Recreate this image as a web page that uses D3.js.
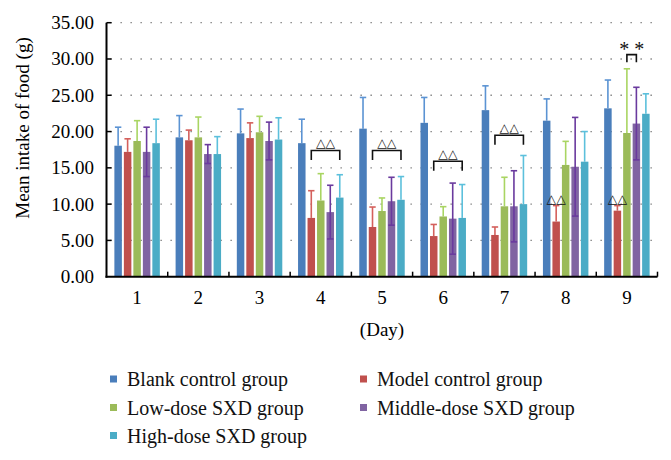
<!DOCTYPE html>
<html><head><meta charset="utf-8">
<script src="https://cdn.jsdelivr.net/npm/d3@7"></script>
<style>body{margin:0;background:#fff}svg{display:block}</style>
</head><body>
<script>
const days = ["1","2","3","4","5","6","7","8","9"];
const seriesNames = ["Blank control group","Model control group","Low-dose SXD group","Middle-dose SXD group","High-dose SXD group"];
const blankMean  = [18.05,19.2,19.75,18.4,20.4,21.2,22.95,21.5,23.2];
const blankSD    = [2.55,3.0,3.35,3.3,4.3,3.5,3.35,3.0,3.9];
const modelMean  = [17.2,18.8,19.1,8.1,6.85,5.6,5.75,7.6,9.1];
const modelSD    = [1.8,1.4,2.1,3.75,2.75,1.6,1.1,2.2,0.7];
const lowMean    = [18.7,19.2,19.9,10.5,9.05,8.3,9.7,15.4,19.8];
const lowSD      = [2.8,2.8,2.2,3.7,1.8,1.35,4.0,3.25,8.85];
const midMean    = [17.2,16.9,18.7,8.9,10.4,8.0,9.7,15.15,21.1];
const midSD      = [3.4,1.3,2.6,3.7,3.3,4.9,4.9,6.8,5.0];
const highMean   = [18.4,16.9,18.9,10.9,10.6,8.1,10.0,15.85,22.45];
const highSD     = [3.3,2.4,3.0,3.15,3.2,4.6,6.7,4.15,2.75];
const yTicks = [0,5,10,15,20,25,30,35];
// significance brackets: day, from series index, to series index, level, label
const bracketDays  = ["4","5","6","7","9"];
const bracketFrom  = [1,1,1,1,2];
const bracketTo    = [4,4,4,4,3];
const bracketLevel = [17.4,17.4,15.9,19.5,30.6];
const bracketLabel = ["△△","△△","△△","△△","* *"];
// single-bar marks over model group
const markDays = ["8","9"];
const markLabel = ["△△","△△"];

const colors = ["#4a7ebb","#c0504d","#9bbb59","#8064a2","#4bacc6"];
const errColors = ["#5b93d3","#d4605c","#a9d562","#6a3a9e","#5cc0dc"];
const means = [blankMean,modelMean,lowMean,midMean,highMean];
const sds = [blankSD,modelSD,lowSD,midSD,highSD];

const W=671,H=460;
const svg=d3.select("body").append("svg").attr("width",W).attr("height",H);
const x0=106.5, x1=657.5, yTop=22.7, yBot=276.7;
const x=d3.scaleBand().domain(days).range([x0,x1]).padding(0);
const xi=d3.scaleBand().domain(d3.range(5)).range([0,x.bandwidth()]).paddingInner(0.21).paddingOuter(0.83);
const y=d3.scaleLinear().domain([0,35]).range([yBot,yTop]);
const serif="'Liberation Serif','Times New Roman',serif";

// gridlines
svg.append("g").selectAll("line").data(yTicks.filter(d=>d>0)).join("line")
  .attr("x1",x0+4).attr("x2",x1).attr("y1",d=>y(d)).attr("y2",d=>y(d))
  .attr("stroke","#777").attr("stroke-width",1.3).attr("stroke-dasharray","1.3,8.7");

function drawErr(g, s, full){
  g.selectAll("g").data(days).join("g").each(function(d,i){
    const cx=x(d)+xi(s)+xi.bandwidth()/2;
    const top=y(means[s][i]+sds[s][i]);
    const bot=full?y(means[s][i]-sds[s][i]):y(means[s][i]);
    const e=d3.select(this);
    e.append("line").attr("x1",cx).attr("x2",cx).attr("y1",top).attr("y2",bot).attr("stroke",errColors[s]).attr("stroke-width",1.6);
    e.append("line").attr("x1",cx-3.2).attr("x2",cx+3.2).attr("y1",top).attr("y2",top).attr("stroke",errColors[s]).attr("stroke-width",1.6);
    if(full) e.append("line").attr("x1",cx-3.2).attr("x2",cx+3.2).attr("y1",bot).attr("y2",bot).attr("stroke",errColors[s]).attr("stroke-width",1.6);
  });
}
for(let s=0;s<5;s++){ if(s!==3) drawErr(svg.append("g"),s,false); }
for(let s=0;s<5;s++){
  svg.append("g").selectAll("rect").data(days).join("rect")
    .attr("x",d=>x(d)+xi(s)).attr("width",xi.bandwidth())
    .attr("y",(d,i)=>y(means[s][i])).attr("height",(d,i)=>y(0)-y(means[s][i]))
    .attr("fill",colors[s]);
}
drawErr(svg.append("g"),3,true);

// axes
svg.append("line").attr("x1",x0).attr("x2",x0).attr("y1",yTop).attr("y2",yBot+1).attr("stroke","#000").attr("stroke-width",2);
svg.append("line").attr("x1",x0-1).attr("x2",x1).attr("y1",yBot).attr("y2",yBot).attr("stroke","#000").attr("stroke-width",2);
svg.append("g").selectAll("line").data(yTicks.filter(d=>d>0)).join("line")
  .attr("x1",x0).attr("x2",x0+5).attr("y1",d=>y(d)).attr("y2",d=>y(d)).attr("stroke","#000").attr("stroke-width",1.5);
svg.append("g").selectAll("line").data(days.slice(1).concat(["end"])).join("line")
  .attr("x1",d=>d==="end"?x1:x(d)).attr("x2",d=>d==="end"?x1:x(d)).attr("y1",yBot-5).attr("y2",yBot).attr("stroke","#000").attr("stroke-width",1.5);
svg.append("g").selectAll("text").data(yTicks).join("text")
  .attr("x",94).attr("y",d=>y(d)+6.5).attr("text-anchor","end")
  .attr("font-family",serif).attr("font-size",19).text(d=>d.toFixed(2));
svg.append("g").selectAll("text").data(days).join("text")
  .attr("x",d=>x(d)+x.bandwidth()/2).attr("y",303.5).attr("text-anchor","middle")
  .attr("font-family",serif).attr("font-size",19).text(d=>d);
svg.append("text").attr("x",(x0+x1)/2).attr("y",336).attr("text-anchor","middle")
  .attr("font-family",serif).attr("font-size",19).text("(Day)");
svg.append("text").attr("transform","translate(29,128) rotate(-90)").attr("text-anchor","middle")
  .attr("font-family",serif).attr("font-size",19).text("Mean intake of food (g)");

// brackets
const sym="'DejaVu Sans',sans-serif";
bracketDays.forEach((d,k)=>{
  const xa=x(d)+xi(bracketFrom[k])+xi.bandwidth()/2;
  const xb=x(d)+xi(bracketTo[k])+xi.bandwidth()/2;
  const yl=y(bracketLevel[k]);
  const star=bracketLabel[k]==="* *";
  const leg=star?7.5:9.5;
  svg.append("path").attr("d",`M${xa},${yl+leg}V${yl}H${xb}V${yl+leg}`)
    .attr("fill","none").attr("stroke","#111").attr("stroke-width",1.6);
  svg.append("text").attr("x",(xa+xb)/2).attr("y",star?yl+1:yl-3)
    .attr("text-anchor","middle").attr("font-family",star?serif:sym)
    .attr("font-size",star?20:12.5).attr("fill","#111").text(bracketLabel[k]);
});
markDays.forEach((d,k)=>{
  const i=days.indexOf(d);
  const cx=x(d)+xi(1)+xi.bandwidth()/2;
  svg.append("text").attr("x",cx).attr("y",y(modelMean[i]+modelSD[i])-2.5)
    .attr("text-anchor","middle").attr("font-family",sym).attr("font-size",12.5).attr("fill","#111").text(markLabel[k]);
});

// legend
const legPos=[[110,379],[360,379],[110,407.5],[360,407.5],[110,435.5]];
seriesNames.forEach((n,s)=>{
  const [lx,ly]=legPos[s];
  svg.append("rect").attr("x",lx).attr("y",ly-3.5).attr("width",7).attr("height",7).attr("fill",colors[s]);
  svg.append("text").attr("x",lx+17).attr("y",ly+7).attr("font-family",serif).attr("font-size",20).attr("fill","#111").text(n);
});
</script>
</body></html>
